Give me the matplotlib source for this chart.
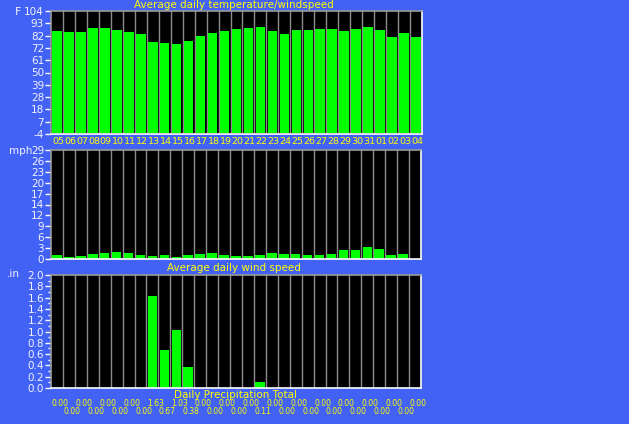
import matplotlib.pyplot as plt
import numpy as np
from matplotlib.ticker import FixedLocator, MultipleLocator

# Data
days = ["05", "06", "07", "08", "09", "10", "11", "12", "13", "14", "15",
        "16", "17", "18", "19", "20", "21", "22", "23", "24", "25", "26",
        "27", "28", "29", "30", "31", "01", "02", "03", "04"]
temp_f = [86.7, 85.6, 85.6, 89.1, 89.1, 87.3, 85.6, 84.1, 76.8, 75.9, 75.0,
          77.7, 82.1, 84.7, 86.4, 88.2, 89.1, 90.0, 86.4, 83.8, 87.3, 87.3,
          88.2, 88.2, 86.4, 88.2, 90.0, 87.3, 81.2, 84.7, 81.2]
wind_mph = [1.15, 0.62, 0.89, 1.42, 1.68, 1.95, 1.68, 1.15, 0.89, 1.15, 0.62,
            1.15, 1.42, 1.68, 1.15, 0.89, 0.89, 1.15, 1.68, 1.42, 1.42, 1.15,
            1.15, 1.42, 2.48, 2.48, 3.28, 2.75, 1.15, 1.42, 0.0]
precip_in = [0.00, 0.00, 0.00, 0.00, 0.00, 0.00, 0.00, 0.00, 1.63, 0.67, 1.03,
             0.38, 0.00, 0.00, 0.00, 0.00, 0.00, 0.11, 0.00, 0.00, 0.00, 0.00,
             0.00, 0.00, 0.00, 0.00, 0.00, 0.00, 0.00, 0.00, 0.00]

BG = "#4262F5"
BAR = "#00FF00"
YEL = "#FFFF00"
TXT = "#F2F2FF"
W, H = 629, 424

fig = plt.figure(figsize=(W / 100, H / 100), dpi=100, facecolor=BG)
plt.rcParams["font.family"] = "DejaVu Sans"


def make_axes(x0, x1, y0, y1):
    ax = fig.add_axes([x0 / W, 1 - y1 / H, (x1 - x0) / W, (y1 - y0) / H])
    ax.set_facecolor("black")
    for s in ["left", "top"]:
        ax.spines[s].set_color("#9A9A9A")
    for s in ["right", "bottom"]:
        ax.spines[s].set_color("white")
    for s in ax.spines.values():
        s.set_linewidth(1.2)
    ax.set_xlim(-0.5, len(days) - 0.5)
    ax.set_xticks([])
    ax.tick_params(axis="y", colors="white", labelcolor=TXT, labelsize=7.5,
                   length=4, width=1, pad=1)
    # gray separators between days
    for b in np.arange(0.5, len(days) - 0.5, 1):
        ax.axvline(b, color="#8C8C8C", lw=1.0, zorder=1)
    return ax


x = np.arange(len(days))

# Temperature
ax1 = make_axes(51, 422, 11, 134)
ax1.set_ylim(-4, 104)
t_ticks = np.linspace(-4, 104, 11)
ax1.yaxis.set_major_locator(FixedLocator(t_ticks))
ax1.set_yticklabels(["%.0f" % v for v in t_ticks])
ax1.bar(x, np.array(temp_f) + 3, bottom=-3, width=0.8, color=BAR, zorder=2)
for i, d in enumerate(days):
    fig.text((52 + 371 * (i + 0.5) / len(days)) / W, 1 - 141 / H, d,
             color=YEL, fontsize=6.8, ha="center", va="center")
fig.text(234 / W, 1 - 5 / H, "Average daily temperature/windspeed",
         color=YEL, fontsize=7.5, ha="center", va="center")
fig.text(18 / W, 1 - 12 / H, "F", color=TXT, fontsize=8, ha="center", va="center")

# Wind
ax2 = make_axes(51, 421, 150, 259)
ax2.set_ylim(0, 29)
w_ticks = np.linspace(0, 29, 11)
ax2.yaxis.set_major_locator(FixedLocator(w_ticks))
ax2.set_yticklabels(["%.0f" % v for v in w_ticks])
ax2.bar(x, wind_mph, width=0.8, color=BAR, zorder=2)
fig.text(234 / W, 1 - 268 / H, "Average daily wind speed",
         color=YEL, fontsize=7.5, ha="center", va="center")
fig.text(32 / W, 1 - 151 / H, "mph", color=TXT, fontsize=7.5, ha="right", va="center")

# Precipitation
ax3 = make_axes(51, 421, 275, 388)
ax3.set_ylim(0, 2.0)
ax3.yaxis.set_major_locator(MultipleLocator(0.2))
ax3.yaxis.set_minor_locator(MultipleLocator(0.1))
ax3.yaxis.set_major_formatter(plt.FormatStrFormatter("%.1f"))
ax3.tick_params(axis="y", which="minor", colors="white", length=2, width=1)
ax3.bar(x, precip_in, width=0.8, color=BAR, zorder=2)
fig.text(236 / W, 1 - 395 / H, "Daily Precipitation Total",
         color=YEL, fontsize=7.5, ha="center", va="center")
fig.text(13 / W, 1 - 274 / H, ".in", color=TXT, fontsize=7.5, ha="center", va="center")
for i, v in enumerate(precip_in):
    yy = 404 if i % 2 == 0 else 411.5
    fig.text((54 + 370 * (i + 0.5) / len(days)) / W, 1 - yy / H, "%.2f" % v,
             color=YEL, fontsize=5.5, ha="center", va="center")

fig.savefig("out.png", dpi=100, facecolor=BG)
